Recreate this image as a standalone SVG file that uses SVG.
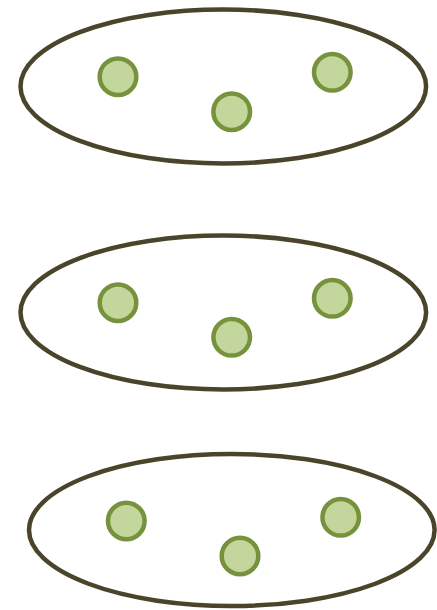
<svg xmlns="http://www.w3.org/2000/svg" width="437" height="610" viewBox="0 0 437 610">
<style>
.set{fill:#ffffff;stroke:#4a452a;stroke-width:4.5}
.el{fill:#c3d69b;stroke:#76923c;stroke-width:4.5}
</style>
<rect width="437" height="610" fill="#ffffff"/>
<g id="set1">
<ellipse class="set" cx="223.3" cy="86.5" rx="202.8" ry="77"/>
<circle class="el" cx="118" cy="76.7" r="18.3"/>
<circle class="el" cx="231.7" cy="111.7" r="18.3"/>
<circle class="el" cx="332.3" cy="72.3" r="18.3"/>
</g>
<g id="set2">
<ellipse class="set" cx="223.3" cy="312.5" rx="202.8" ry="77"/>
<circle class="el" cx="118" cy="302.7" r="18.3"/>
<circle class="el" cx="231.7" cy="337.3" r="18.3"/>
<circle class="el" cx="332.3" cy="298.3" r="18.3"/>
</g>
<g id="set3">
<ellipse class="set" cx="231.8" cy="530" rx="202.8" ry="76"/>
<circle class="el" cx="126.3" cy="521" r="18.3"/>
<circle class="el" cx="240" cy="556" r="18.3"/>
<circle class="el" cx="340.7" cy="517.3" r="18.3"/>
</g>
<g id="connectors"/>
</svg>
